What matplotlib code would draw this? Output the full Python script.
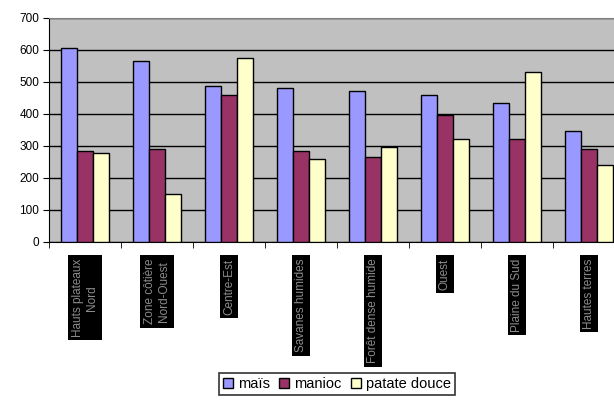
import numpy as np
import matplotlib.pyplot as plt

# Données
regions = ["Hauts plateaux\nNord", "Zone côtière\nNord-Ouest", "Centre-Est",
           "Savanes humides", "Forêt dense humide", "Ouest",
           "Plaine du Sud", "Hautes terres"]
mais = [606, 567, 487, 480, 473, 460, 435, 347]
manioc = [285, 292, 460, 285, 267, 397, 323, 292]
patate_douce = [279, 149, 575, 258, 297, 323, 530, 240]

plt.rcParams['font.family'] = ['Liberation Sans', 'DejaVu Sans']

fig = plt.figure(figsize=(6.14, 4.03), dpi=100)
# l'axe dépasse à droite comme dans l'original (dernier groupe coupé)
ax = fig.add_axes([49/614, 161/403, 576/614, 224/403])
ax.set_facecolor('#C0C0C0')

x = np.arange(len(regions))
w = 16/72
ax.bar(x - w, mais, w, color='#9999FF', edgecolor='black', linewidth=1, label='maïs', zorder=3)
ax.bar(x, manioc, w, color='#993366', edgecolor='black', linewidth=1, label='manioc', zorder=3)
ax.bar(x + w, patate_douce, w, color='#FFFFCC', edgecolor='black', linewidth=1, label='patate douce', zorder=3)

ax.set_xlim(-0.5, len(regions) - 0.5)
ax.set_ylim(0, 700)
ax.set_yticks(range(0, 701, 100))
ax.yaxis.grid(True, color='black', linewidth=1, zorder=1)
ax.tick_params(axis='y', direction='out', length=4, labelsize=8.5, pad=3)

# graduations entre les groupes, étiquettes au centre
ax.set_xticks(np.arange(len(regions) + 1) - 0.5, minor=True)
ax.set_xticks(x)
ax.set_xticklabels(regions, rotation=90, va='top', ha='center', fontsize=8.5,
                   color='#8c8c8c', linespacing=1.25)
for t in ax.get_xticklabels():
    t.set_bbox(dict(facecolor='black', edgecolor='none', pad=2.5))
ax.tick_params(axis='x', which='major', length=0, pad=12)
ax.tick_params(axis='x', which='minor', direction='out', length=4)

ax.spines['right'].set_visible(False)
ax.spines['top'].set_color('#808080')
ax.spines['left'].set_color('black')
ax.spines['bottom'].set_color('black')

leg = fig.legend(loc='lower center', bbox_to_anchor=(337/614, 1/403), ncol=3,
                 frameon=True, fancybox=False, edgecolor='black', fontsize=10.5,
                 handlelength=0.7, handleheight=0.7, handletextpad=0.35,
                 columnspacing=0.6, borderpad=0.25)
leg.get_frame().set_linewidth(1.2)

fig.savefig('out.png', dpi=100)
